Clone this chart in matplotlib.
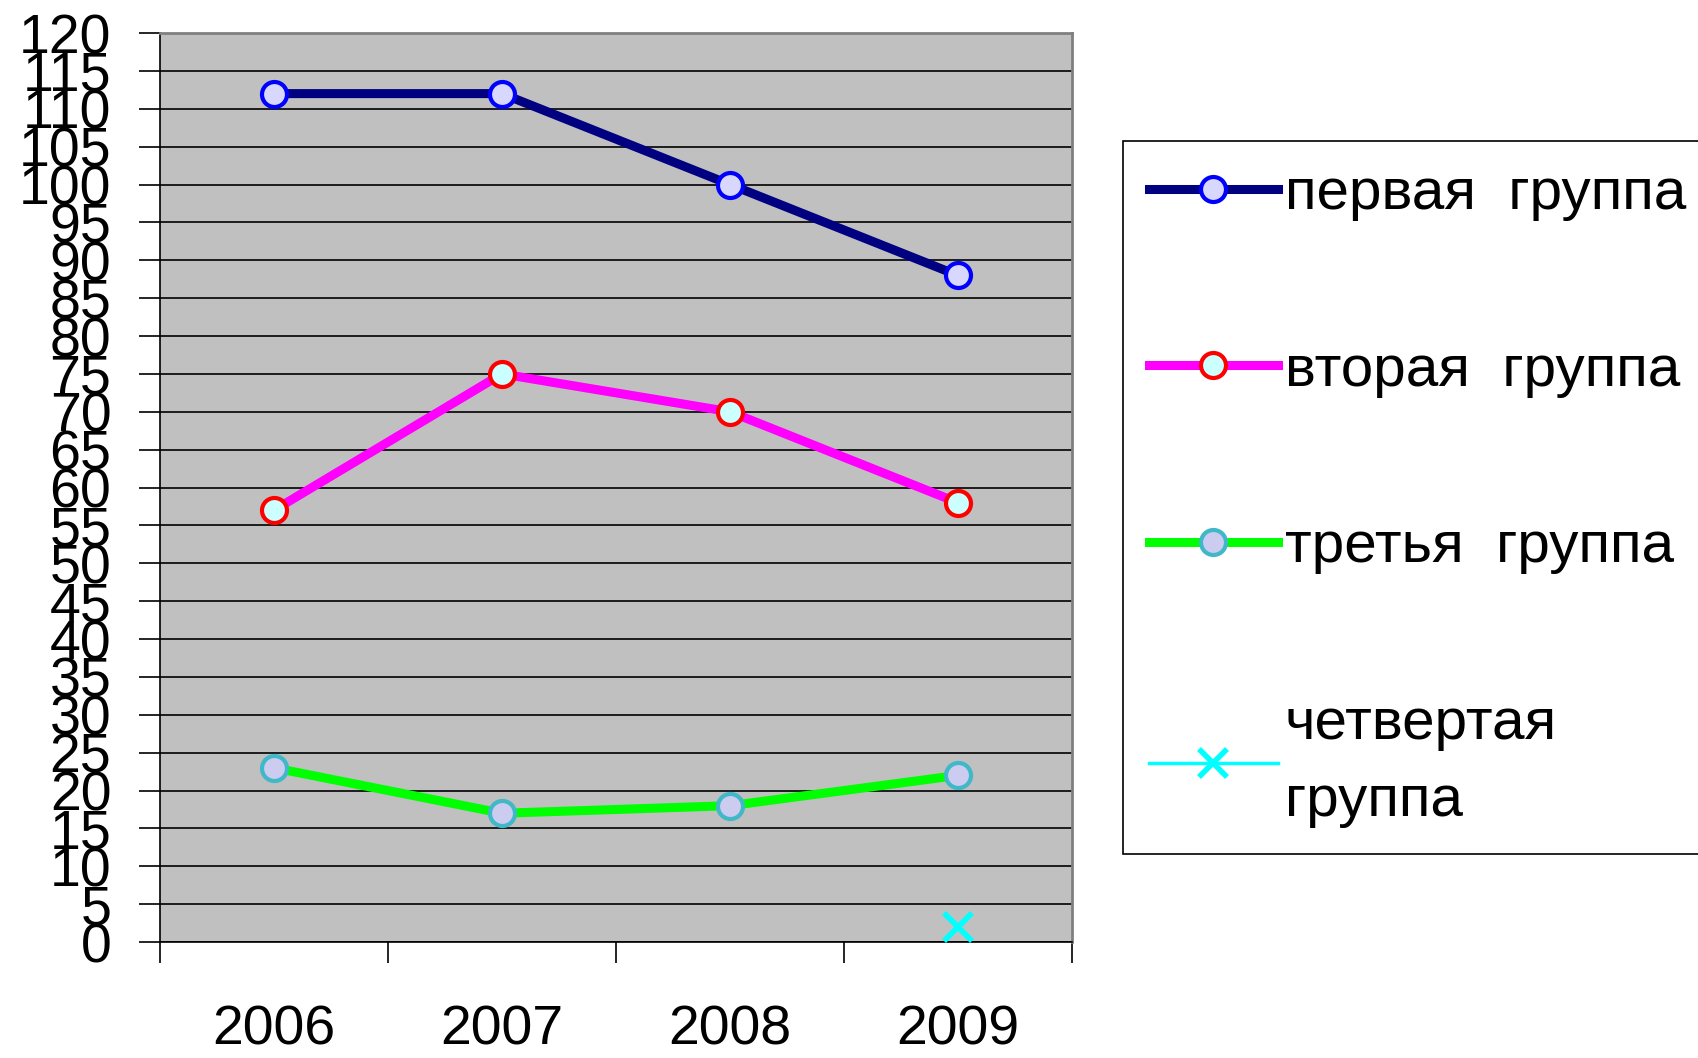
import numpy as np
import matplotlib
matplotlib.use('Agg')
import matplotlib.pyplot as plt

plt.rcParams['font.family'] = ['Liberation Sans', 'DejaVu Sans']

years = ['2006', '2007', '2008', '2009']
first = [112, 112, 100, 88]
second = [57, 75, 70, 58]
third = [23, 17, 18, 22]
fourth = [np.nan, np.nan, np.nan, 2]
labels = ['первая  группа', 'вторая  группа', 'третья  группа', 'четвертая\nгруппа']

fig = plt.figure(figsize=(16.98, 10.58), dpi=100)
ax = fig.add_axes([0.0942, 0.1096, 0.5371, 0.8592])
ax.set_facecolor('#C0C0C0')

x = np.arange(len(years)) + 0.5
ax.plot(x, first, color='#000080', lw=6.5, marker='o', ms=18, mfc='#D8D8FF',
        mec='#0000FF', mew=3, label=labels[0], zorder=3)
ax.plot(x, second, color='#FF00FF', lw=6.5, marker='o', ms=18, mfc='#CCFFFF',
        mec='#FF0000', mew=3, label=labels[1], zorder=3)
ax.plot(x, third, color='#00FF00', lw=6.5, marker='o', ms=18, mfc='#CCCCF0',
        mec='#40B8C8', mew=3, label=labels[2], zorder=3)
ax.plot(x, fourth, color='#00FFFF', lw=2.5, marker='x', ms=20, mew=4,
        label=labels[3], zorder=3)

ax.set_xlim(0, 4)
ax.set_ylim(0, 120)
ax.set_yticks(np.arange(0, 121, 5))
ax.yaxis.grid(True, color='black', lw=1.2)
ax.set_axisbelow(True)
ax.tick_params(axis='y', direction='out', length=15, width=1.2, pad=20, labelsize=40)

ax.set_xticks(x)
ax.set_xticklabels(years)
ax.set_xticks(np.arange(0, 5), minor=True)
ax.tick_params(axis='x', which='major', length=0, pad=45, labelsize=40)
ax.tick_params(axis='x', which='minor', direction='out', length=15, width=1.2)

for s in ['top', 'right']:
    ax.spines[s].set_color('#808080')
    ax.spines[s].set_linewidth(2)
for s in ['left', 'bottom']:
    ax.spines[s].set_color('black')
    ax.spines[s].set_linewidth(1.2)

leg = ax.legend(loc='upper left', bbox_to_anchor=(1123 / 1698, 1 - 141 / 1058),
                bbox_transform=fig.transFigure, borderaxespad=0, fontsize=42,
                handlelength=2.2, handletextpad=0.12, labelspacing=2.1,
                borderpad=0.45, fancybox=False, framealpha=1, edgecolor='black')
leg.get_frame().set_linewidth(1.2)
leg.get_texts()[3].set_linespacing(1.55)

fig.savefig('out.png', dpi=100)
